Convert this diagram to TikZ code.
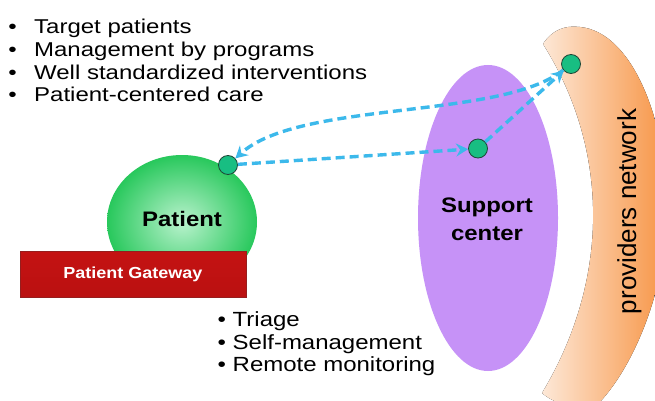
\documentclass[tikz,border=0pt]{standalone}
\usepackage{fontspec}
\setmainfont{Liberation Sans}
\usepackage{graphicx}
\usetikzlibrary{shapes.geometric,arrows.meta}
\definecolor{flowblue}{RGB}{60,185,235}
\definecolor{dotgreen}{RGB}{24,190,130}
\definecolor{dotedge}{RGB}{30,70,55}
\definecolor{lavender}{RGB}{198,146,247}
\definecolor{peach}{RGB}{253,232,215}
\definecolor{orangeD}{RGB}{247,148,68}
\definecolor{ballin}{RGB}{185,242,205}
\definecolor{ballout}{RGB}{40,200,92}
\definecolor{gwred}{RGB}{196,18,18}
\definecolor{gwedge}{RGB}{150,30,30}
\tikzset{
  dotnode/.style={circle,fill=dotgreen,draw=dotedge,line width=0.8pt,minimum size=19pt,inner sep=0pt},
  flow/.style={draw=flowblue,line width=3.4pt,dash pattern=on 9pt off 5pt,
    -{Stealth[length=12pt,width=13pt,inset=4pt]}},
  toplist/.style={anchor=base west,inner sep=0pt,font=\fontsize{20}{24}\selectfont},
  botlist/.style={anchor=base west,inner sep=0pt,font=\fontsize{20.5}{24}\selectfont},
  boldlabel/.style={inner sep=0pt,font=\fontsize{21}{27.4}\selectfont\bfseries}
}
\begin{document}
\begin{tikzpicture}[x=1pt,y=-1pt]
\useasboundingbox (0,0) rectangle (655,401);
\fill[white] (0,0) rectangle (655,401);

% providers network crescent
\begin{scope}
\clip (0,0) rectangle (655,401);
\fill[left color=peach,right color=orangeD]
  (542,393) .. controls (610,280) and (610,150) .. (543,44)
  .. controls (552,30) and (565,25) .. (580,27)
  .. controls (632,32) and (667,120) .. (667,210)
  .. controls (667,290) and (632,370) .. (597,405)
  .. controls (572,410) and (552,402) .. (542,393) -- cycle;
\end{scope}
\node[rotate=90,anchor=base,inner sep=0pt,font=\fontsize{26}{30}\selectfont] (provtext) at (636,211.5) {providers network};

% support center
\node[ellipse,fill=lavender,minimum width=140pt,minimum height=306pt,inner sep=0pt] (support) at (488,218) {};
\node[boldlabel,align=center] (supporttext) at (487,219.4) {\scalebox{1.14}[1]{Support}\\\scalebox{1.14}[1]{center}};

% patient
\node[ellipse,inner color=ballin,outer color=ballout,minimum width=150pt,minimum height=134pt,inner sep=0pt] (patient) at (182,222) {};
\node[boldlabel,anchor=base] (patienttext) at (182,226.7) {\scalebox{1.14}[1]{Patient}};

% gateway
\node[rectangle,top color=gwred,bottom color=gwred!95!black,draw=gwedge,line width=0.8pt,
  minimum width=226pt,minimum height=46pt,inner sep=0pt,text=white,
  font=\fontsize{16}{18}\selectfont\bfseries] (gateway) at (133,274) {\scalebox{1.125}[1]{Patient Gateway}};

% top list
\node[toplist] (t1) at (8.3,33.3) {\scalebox{1.2}[1]{\makebox[21.4pt][l]{•}Target patients}};
\node[toplist] (t2) at (8.3,56.2) {\scalebox{1.2}[1]{\makebox[21.4pt][l]{•}Management by programs}};
\node[toplist] (t3) at (8.3,79.1) {\scalebox{1.2}[1]{\makebox[21.4pt][l]{•}Well standardized interventions}};
\node[toplist] (t4) at (8.3,102) {\scalebox{1.2}[1]{\makebox[21.4pt][l]{•}Patient-centered care}};

% bottom list
\node[botlist] (b1) at (217.4,326.7) {\scalebox{1.17}[1]{\makebox[12.9pt][l]{•}Triage}};
\node[botlist] (b2) at (217.4,349) {\scalebox{1.17}[1]{\makebox[12.9pt][l]{•}Self-management}};
\node[botlist] (b3) at (217.4,371.7) {\scalebox{1.17}[1]{\makebox[12.9pt][l]{•}Remote monitoring}};

% connection points
\node[dotnode] (pn) at (228,165) {};
\node[dotnode] (sn) at (478,148.5) {};
\node[dotnode] (prn) at (571,64) {};

% flows
\draw[flow] (pn) -- (sn);
\draw[flow] (sn) -- (prn);
\draw[flow] (prn) .. controls (500,120) and (300,100) .. (pn);
\end{tikzpicture}
\end{document}
